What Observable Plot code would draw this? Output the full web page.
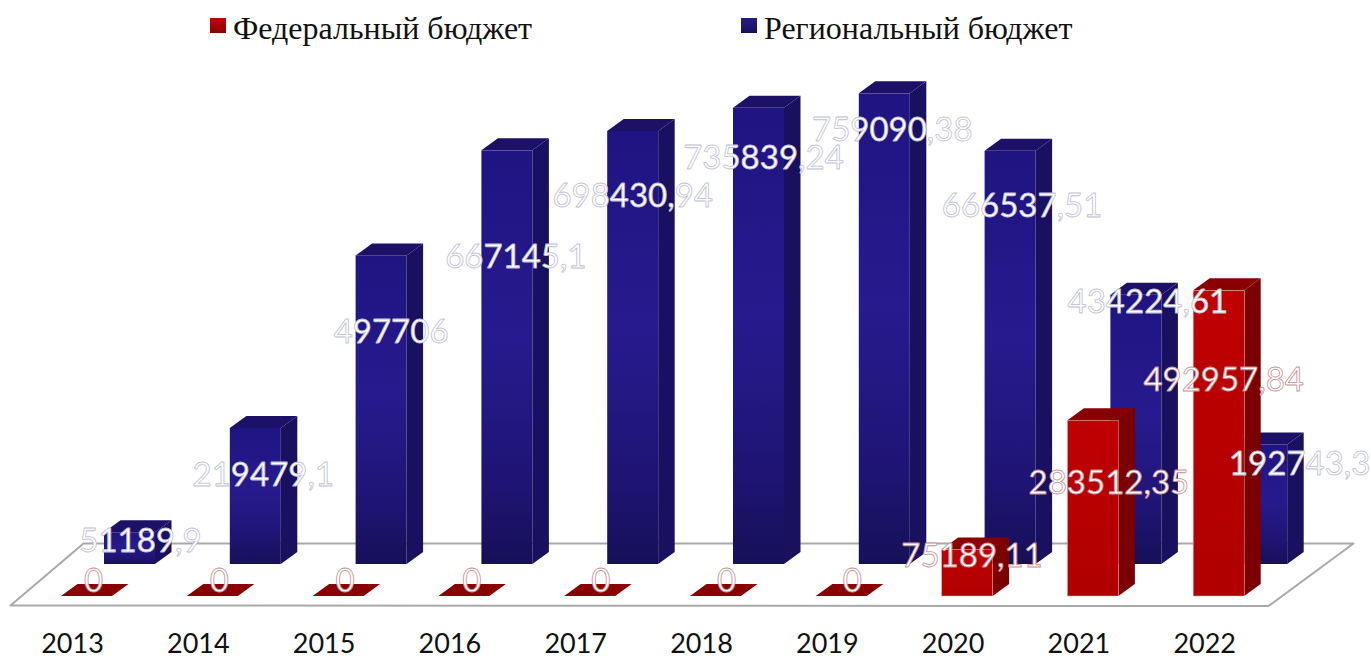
<!DOCTYPE html>
<html><head><meta charset="utf-8">
<script src="https://cdn.jsdelivr.net/npm/d3@7"></script>
<script src="https://cdn.jsdelivr.net/npm/@observablehq/plot@0.6"></script>
<style>
html,body{margin:0;padding:0;background:#fff;overflow:hidden}
#legend{position:relative;height:60px;width:1371px;font-family:"Liberation Serif",serif;font-size:32px;color:#111}
#legend .s{position:absolute;top:18px;width:16px;height:15px}
#legend .t{position:absolute;top:11px;line-height:34px;white-space:nowrap}
svg{display:block}
</style></head><body>
<div id="legend">
<div class="s" style="left:210px;background:linear-gradient(#c40000,#8a0000)"></div><div class="t" style="left:233px" id="l0"></div>
<div class="s" style="left:741px;background:linear-gradient(#2a1a8c,#17105c)"></div><div class="t" style="left:764px" id="l1"></div>
</div>
<div id="chart"></div>
<script>
const years = [2013,2014,2015,2016,2017,2018,2019,2020,2021,2022];
const federal = [0,0,0,0,0,0,0,75189.11,283512.35,492957.84];
const regional = [51189.9,219479.1,497706,667145.1,698430.94,735839.24,759090.38,666537.51,434224.61,192743.3];
const seriesNames = ["Федеральный бюджет","Региональный бюджет"];
document.getElementById("l0").textContent = seriesNames[0];
document.getElementById("l1").textContent = seriesNames[1];

// layout: scale factors and pixel sizes
const pxPerYear = 125.8, pxPerValue = 0.00062;
const X = p => p / pxPerYear, Y = p => p / pxPerValue;
const barW = 51, depthX = 16.5, depthY = 12, backRise = 32;
const fedLeft = -11, regLeft = 32;

// per-label nudges off each bar's top, in pixels
const regDx = [68,65,67,66,57,62,65,69,69,95], regDy = [9,47,77,107,65,50,37,55,7,19];
const fedDx = [21,21,21,22,25,25,25,19,30,19], fedDy = [-15,-15,-15,-15,-15,-15,-15,7,63,90];

function faces(vals, left, base) {
  const front = [], side = [], top = [];
  vals.forEach((v, i) => {
    const y0 = years[i], xl = y0 + X(left), xr = xl + X(barW), dx = X(depthX), dy = Y(depthY);
    const b = base, t = base + v;
    if (v > 0) front.push({x1: xl, x2: xr, y1: b, y2: t});
    side.push({k: i, x: xr, y1: b, y2: t}, {k: i, x: xr + dx, y1: b + dy, y2: t + dy});
    top.push({k: i, x: xl, y1: t, y2: t}, {k: i, x: xl + dx, y1: t, y2: t + dy},
             {k: i, x: xr, y1: t, y2: t + dy}, {k: i, x: xr + dx, y1: t + dy, y2: t + dy});
  });
  return {front, side, top};
}
const backBase = Y(backRise);
const reg = faces(regional, regLeft, backBase), fed = faces(federal, fedLeft, 0);

function barMarks(f, frontFill, sideFill, topFill, edge) {
  return [
    Plot.areaY(f.side, {x: "x", y1: "y1", y2: "y2", z: "k", fill: sideFill}),
    Plot.areaY(f.top, {x: "x", y1: "y1", y2: "y2", z: "k", fill: topFill}),
    Plot.rect(f.front, {x1: "x1", x2: "x2", y1: "y1", y2: "y2", fill: frontFill, stroke: edge, strokeWidth: 0.5})
  ];
}
const fmt = v => String(v).replace(".", ",");
function labels(vals, base, dxs, dys, stroke) {
  const rows = vals.map((v, i) => ({x: years[i] + X(dxs[i]), y: base + v - Y(dys[i]), t: fmt(v)}));
  return Plot.text(rows, {
    x: "x", y: "y", text: "t",
    fontFamily: "Lato", fontSize: 33, fill: "#fdfdff", stroke, strokeWidth: 0.8, paintOrder: "fill"
  });
}
const y0 = years[0];
const floor = [
  {x: y0 + X(-62), y: Y(-9)}, {x: y0 + X(1196), y: Y(-9.5)},
  {x: y0 + X(1281), y: Y(53)}, {x: y0 + X(11), y: Y(53)}, {x: y0 + X(-62), y: Y(-9)}
];
const defs = () => {
  const s = d3.create("svg:defs");
  const g = s.append("linearGradient").attr("id", "blueG").attr("x1", 0).attr("x2", 0).attr("y1", 0).attr("y2", 1);
  [[0, "#1f1482"], [0.45, "#271a8e"], [0.8, "#1f1474"], [1, "#171058"]].forEach(([o, c]) => g.append("stop").attr("offset", o).attr("stop-color", c));
  const r = s.append("linearGradient").attr("id", "redG").attr("x1", 0).attr("x2", 0).attr("y1", 0).attr("y2", 1);
  [[0, "#bf0000"], [1, "#b00000"]].forEach(([o, c]) => r.append("stop").attr("offset", o).attr("stop-color", c));
  return s.node();
};
const plot = Plot.plot({
  width: 1371, height: 599,
  marginLeft: 0, marginRight: 0, marginTop: 0, marginBottom: 30,
  x: {domain: [y0 - 72 / pxPerYear, y0 + 1299 / pxPerYear]},
  y: {domain: [Y(596 - 629), Y(596 - 60)], axis: null},
  style: {background: "#fff"},
  marks: [
    defs,
    Plot.line(floor, {x: "x", y: "y", stroke: "#a9a9a9", strokeWidth: 2, fill: "#fff"}),
    ...barMarks(reg, "url(#blueG)", "#1a1060", "#1c1166", "none"),
    ...barMarks(fed, "url(#redG)", "#7c0000", "#8a0000", "#eeb0b0"),
    labels(regional, backBase, regDx, regDy, "#bfbfd0"),
    labels(federal, 0, fedDx, fedDy, "#c79090"),
    Plot.axisX({ticks: years, tickFormat: d => String(d), tickSize: 0, tickPadding: 4, anchor: "bottom", label: null,
      fontFamily: "Lato", fontSize: 27, fill: "#111"})
  ]
});
document.getElementById("chart").append(plot);
</script>
</body></html>
